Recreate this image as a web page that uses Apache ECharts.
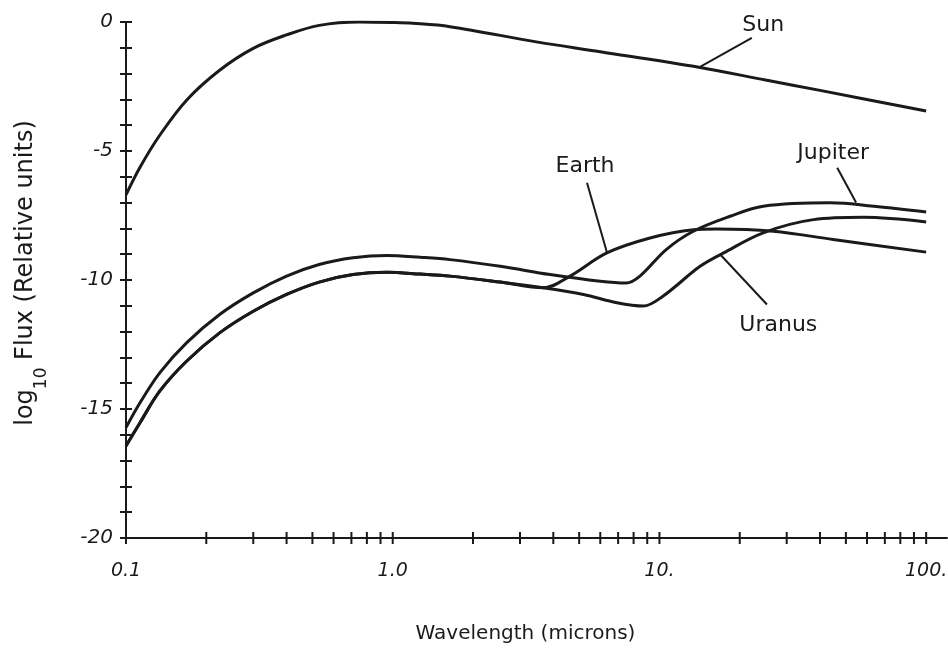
<!DOCTYPE html>
<html>
<head>
<meta charset="utf-8">
<script src="https://cdn.jsdelivr.net/npm/echarts/dist/echarts.min.js"></script>
<style>html,body{margin:0;padding:0;background:#fff}#c{width:948px;height:651px}</style>
</head>
<body>
<div id="c"></div>
<script>
// ---- data (wavelength in microns, log10 flux) ----
const sunWavelength = [0.1, 0.113, 0.134, 0.169, 0.225, 0.30, 0.40, 0.53, 0.75, 1.0, 1.19, 1.64, 3.5, 6.0, 14.2, 25, 40, 100];
const sunFlux       = [-6.7, -5.62, -4.38, -3.02, -1.86, -1.02, -0.50, -0.13, 0.0, -0.02, -0.05, -0.18, -0.78, -1.15, -1.76, -2.25, -2.65, -3.45];

const jupiterWavelength = [0.1, 0.113, 0.134, 0.169, 0.225, 0.30, 0.40, 0.53, 0.71, 0.95, 1.27, 1.64, 2.53, 3.89, 6.0, 7.5, 8.45, 10.6, 13.4, 18.4, 24.5, 43.6, 65, 100];
const jupiterFlux       = [-15.72, -14.75, -13.59, -12.43, -11.33, -10.50, -9.85, -9.40, -9.14, -9.05, -9.12, -9.21, -9.47, -9.79, -10.05, -10.12, -9.85, -8.82, -8.11, -7.53, -7.14, -7.01, -7.15, -7.36];

const uranusWavelength = [0.1, 0.113, 0.134, 0.169, 0.225, 0.30, 0.40, 0.53, 0.71, 0.95, 1.27, 1.64, 2.53, 3.67, 5.19, 6.92, 8.7, 10.3, 14.2, 17.4, 24.5, 37.8, 58.2, 100];
const uranusFlux       = [-16.43, -15.52, -14.30, -13.14, -12.04, -11.21, -10.56, -10.08, -9.79, -9.70, -9.77, -9.85, -10.08, -10.30, -10.56, -10.88, -11.01, -10.63, -9.47, -8.95, -8.17, -7.66, -7.57, -7.75];

const earthWavelength = [0.1, 0.113, 0.134, 0.169, 0.225, 0.30, 0.40, 0.53, 0.71, 0.95, 1.27, 1.64, 2.53, 3.67, 4.62, 6.35, 9.22, 13.4, 16.4, 26.7, 44.8, 100];
const earthFlux       = [-16.43, -15.52, -14.30, -13.14, -12.04, -11.21, -10.56, -10.08, -9.79, -9.70, -9.77, -9.85, -10.08, -10.30, -9.85, -8.95, -8.37, -8.05, -8.02, -8.11, -8.43, -8.92];

// axis ticks
const xMajorTicks = [0.1, 1, 10, 100];
const xMinorTicks = [0.2, 0.3, 0.4, 0.5, 0.6, 0.7, 0.8, 0.9, 2, 3, 4, 5, 6, 7, 8, 9, 20, 30, 40, 50, 60, 70, 80, 90];
const xTickLabels = {'0.1': '0.1', '1': '1.0', '10': '10.', '100': '100.'};
const yTickLabels = {'0': '0', '-5': '-5', '-10': '-10', '-15': '-15', '-20': '-20'};

// annotations (data coordinates)
const curveNames   = ['Sun', 'Earth', 'Jupiter', 'Uranus'];
const namePoints   = [[24.5, -0.12], [5.26, -5.61], [44.8, -5.07], [27.9, -11.76]];
const leaderLines  = [[22.2, -0.62, 14.2, -1.74], [5.35, -6.23, 6.36, -8.94], [46.4, -5.65, 54.6, -7.0], [25.3, -10.95, 16.9, -9.01]];

const zip = (xs, ys) => xs.map((x, i) => [x, ys[i]]);
const INK = '#1a1a1a';
const FONT = 'DejaVu Sans';

const chart = echarts.init(document.getElementById('c'), null, {renderer: 'canvas'});

function curve(name, xs, ys) {
  return {
    name, type: 'line', data: zip(xs, ys), smooth: 0.35, showSymbol: false, symbol: 'none',
    lineStyle: {color: INK, width: 3}, silent: true, z: 3
  };
}

function fmtKey(v) {
  return String(Math.round(v * 1000) / 1000);
}

const option = {
  animation: false,
  backgroundColor: '#fff',
  grid: {left: 126, right: 1, top: 22, bottom: 113, containLabel: false, outerBoundsMode: 'none'},
  xAxis: {
    type: 'log', logBase: 10, min: 0.1, max: 119.7,
    axisLine: {show: true, onZero: false, lineStyle: {color: INK, width: 2}},
    axisTick: {show: false},
    splitLine: {show: false},
    minorTick: {show: false},
    axisLabel: {
      show: true, margin: 24, fontSize: 19, fontFamily: FONT, fontStyle: 'italic', color: INK,
      showMinLabel: true, showMaxLabel: true, hideOverlap: false,
      formatter: v => xTickLabels[fmtKey(v)] || ''
    },
    name: 'Wavelength (microns)', nameLocation: 'middle', nameGap: 86,
    nameTextStyle: {fontSize: 20, fontFamily: FONT, color: INK, padding: [0, 22, 0, 0]}
  },
  yAxis: [
    {
      type: 'value', min: -20, max: 0, interval: 5, position: 'left',
      axisLine: {show: true, onZero: false, lineStyle: {color: INK, width: 2}},
      axisTick: {show: true, inside: false, length: 6, lineStyle: {color: INK, width: 2}},
      minorTick: {show: true, splitNumber: 5, length: 6, lineStyle: {color: INK, width: 2}},
      splitLine: {show: false},
      axisLabel: {margin: 13, fontSize: 20, fontFamily: FONT, fontStyle: 'italic', color: INK,
        formatter: v => yTickLabels[String(v)] || ''},
      name: '{a|log}{b|10}{a| Flux (Relative units)}',
      nameLocation: 'middle', nameRotate: 90, nameGap: 76,
      nameTextStyle: {
        color: INK, fontFamily: FONT, fontSize: 24, padding: [0, 0, 0, 14],
        rich: {
          a: {fontSize: 24, fontFamily: FONT, color: INK, lineHeight: 48},
          b: {fontSize: 17, fontFamily: FONT, color: INK, verticalAlign: 'bottom'}
        }
      }
    },
    {
      type: 'value', min: -20, max: 0, interval: 5, position: 'left',
      axisLine: {show: false},
      axisTick: {show: true, inside: true, length: 6, lineStyle: {color: INK, width: 2}},
      minorTick: {show: true, splitNumber: 5, length: 6, lineStyle: {color: INK, width: 2}},
      splitLine: {show: false},
      axisLabel: {show: false}
    }
  ],
  series: [
    curve('Sun', sunWavelength, sunFlux),
    curve('Earth', earthWavelength, earthFlux),
    curve('Jupiter', jupiterWavelength, jupiterFlux),
    curve('Uranus', uranusWavelength, uranusFlux),
    {
      name: 'xTicks', type: 'custom', silent: true, clip: false, z: 4,
      data: xMajorTicks.concat(xMinorTicks).map(v => [v, -20]),
      encode: {x: 0, y: 1},
      renderItem: (params, api) => {
        const p = api.coord([api.value(0), api.value(1)]);
        return {type: 'line', shape: {x1: p[0], y1: p[1] - 6, x2: p[0], y2: p[1] + 6},
          style: {stroke: INK, lineWidth: 2}};
      }
    },
    {
      name: 'leaders', type: 'custom', silent: true, clip: false, z: 4,
      data: leaderLines,
      encode: {x: [0, 2], y: [1, 3]},
      renderItem: (params, api) => {
        const a = api.coord([api.value(0), api.value(1)]);
        const b = api.coord([api.value(2), api.value(3)]);
        return {type: 'line', shape: {x1: a[0], y1: a[1], x2: b[0], y2: b[1]},
          style: {stroke: INK, lineWidth: 2}};
      }
    },
    {
      name: 'labels', type: 'custom', silent: true, clip: false, z: 5,
      data: namePoints,
      encode: {x: 0, y: 1},
      renderItem: (params, api) => {
        const p = api.coord([api.value(0), api.value(1)]);
        return {type: 'text', x: p[0], y: p[1],
          style: {text: curveNames[params.dataIndex], align: 'center', verticalAlign: 'middle',
            fontSize: 22, fontFamily: FONT, fill: INK}};
      }
    }
  ]
};
chart.setOption(option);
</script>
</body>
</html>
